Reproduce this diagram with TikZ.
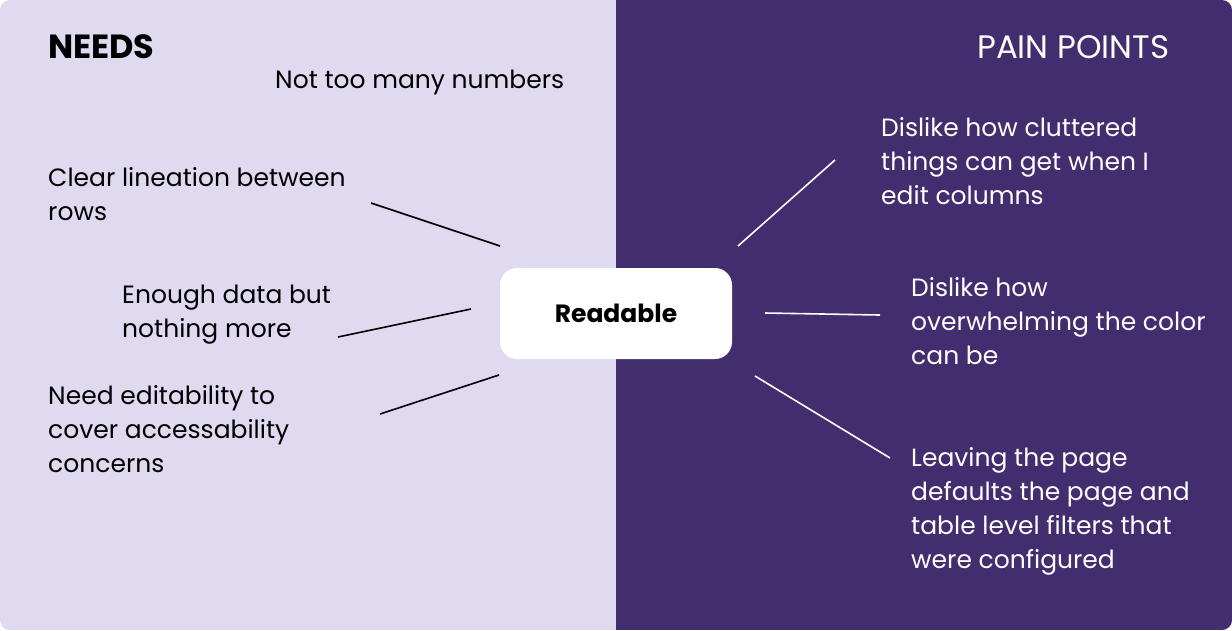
\documentclass[tikz,border=0pt]{standalone}
\usepackage{fontspec}
\setmainfont{Poppins}
\definecolor{needbg}{HTML}{DFDAF0}
\definecolor{painbg}{HTML}{422D6E}
\newcommand{\mylines}[1]{\parbox[t]{400pt}{\raggedright\fontsize{25}{34}\selectfont #1}}
\begin{document}
\begin{tikzpicture}[x=1pt,y=-1pt,
  txt/.style={inner sep=0pt, anchor=base west},
  needtxt/.style={txt, text=black},
  paintxt/.style={txt, text=white},
  needline/.style={draw=black, line width=1.6pt},
  painline/.style={draw=white, line width=1.6pt},
  centerbox/.style={fill=white, rounded corners=17pt, minimum width=232pt, minimum height=91pt, inner sep=0pt,
    font=\bfseries\fontsize{25}{30}\selectfont}]
\fill[white] (0,0) rectangle (1232,630);
\begin{scope}
\clip[rounded corners=10pt] (0,0) rectangle (1232,630);
\fill[needbg] (0,0) rectangle (616,630);
\fill[painbg] (616,0) rectangle (1232,630);
\end{scope}
\useasboundingbox (0,0) rectangle (1232,630);

\node[centerbox] (readable) at (616,313.5) {Readable};

\node[needtxt, font=\bfseries\fontsize{33.5}{34}\selectfont] (needs) at (48,58) {NEEDS};
\node[paintxt, font=\fontsize{32.5}{34}\selectfont] (pain) at (977,58) {PAIN POINTS};

\node[needtxt] (n1) at (275,88) {\mylines{Not too many numbers}};
\node[needtxt] (n2) at (48,186) {\mylines{Clear lineation between\\rows}};
\node[needtxt] (n3) at (122,303) {\mylines{Enough data but\\nothing more}};
\node[needtxt] (n4) at (48,404) {\mylines{Need editability to\\cover accessability\\concerns}};

\node[paintxt] (p1) at (881,136) {\mylines{Dislike how cluttered\\things can get when I\\edit columns}};
\node[paintxt] (p2) at (911,296) {\mylines{Dislike how\\overwhelming the color\\can be}};
\node[paintxt] (p3) at (911,466) {\mylines{Leaving the page\\defaults the page and\\table level filters that\\were configured}};

\coordinate (a1) at (371,203); \coordinate (b1) at (500,246);
\coordinate (a2) at (338,337); \coordinate (b2) at (471,309);
\coordinate (a3) at (380,414); \coordinate (b3) at (499,375);
\coordinate (a4) at (835,160); \coordinate (b4) at (738,246);
\coordinate (a5) at (880,315); \coordinate (b5) at (765,313);
\coordinate (a6) at (890,458); \coordinate (b6) at (755,376);
\draw[needline] (a1) -- (b1);
\draw[needline] (a2) -- (b2);
\draw[needline] (a3) -- (b3);
\draw[painline] (a4) -- (b4);
\draw[painline] (a5) -- (b5);
\draw[painline] (a6) -- (b6);
\end{tikzpicture}
\end{document}
